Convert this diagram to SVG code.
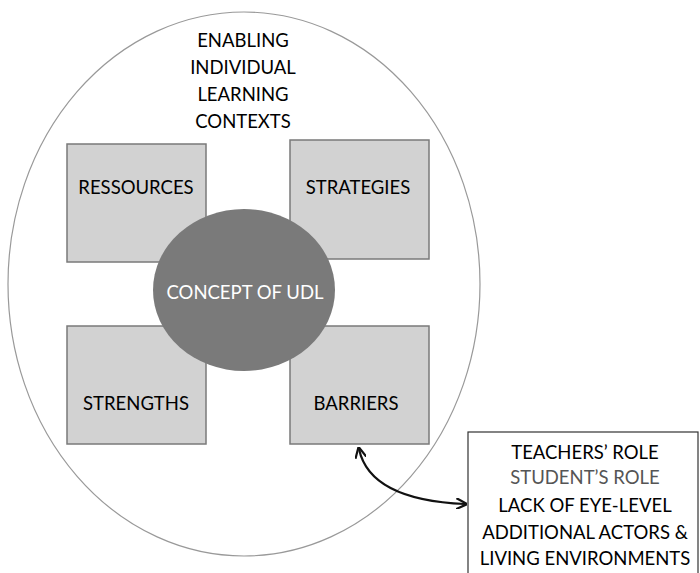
<svg xmlns="http://www.w3.org/2000/svg" width="700" height="573" viewBox="0 0 700 573">
<style>
text{font-family:Lato,"Open Sans","Liberation Sans",sans-serif;font-size:18.5px;fill:#000;text-anchor:middle}
.box{fill:#d2d2d2;stroke:#7a7a7a;stroke-width:1.5}
.conn{fill:none;stroke:#111;stroke-width:2.2}
</style>
<defs>
<marker id="ah" viewBox="0 0 10 10" refX="8" refY="5" markerWidth="5" markerHeight="5" orient="auto-start-reverse">
<path d="M0,0 L10,5 L0,10" fill="none" stroke="#111" stroke-width="2"/>
</marker>
</defs>
<rect width="700" height="573" fill="#fff"/>
<g id="context">
<ellipse cx="244" cy="284" rx="236" ry="272" fill="#fff" stroke="#999" stroke-width="1.2"/>
<text x="243" y="47">ENABLING</text>
<text x="243" y="74">INDIVIDUAL</text>
<text x="243" y="101">LEARNING</text>
<text x="243" y="128">CONTEXTS</text>
</g>
<g id="ressources"><rect class="box" x="67" y="144" width="139" height="118"/><text x="136" y="194">RESSOURCES</text></g>
<g id="strategies"><rect class="box" x="290" y="140" width="139" height="119"/><text x="358" y="194">STRATEGIES</text></g>
<g id="strengths"><rect class="box" x="67" y="326" width="139" height="118"/><text x="136" y="410">STRENGTHS</text></g>
<g id="barriers"><rect class="box" x="290" y="326" width="139" height="118"/><text x="356" y="410">BARRIERS</text></g>
<g id="udl"><ellipse cx="244" cy="290" rx="91" ry="81" fill="#7a7a7a"/><text x="245" y="299" style="fill:#fff">CONCEPT OF UDL</text></g>
<g id="factors">
<rect x="468" y="432" width="230" height="150" fill="#fff" stroke="#333" stroke-width="1.2"/>
<text x="585" y="459">TEACHERS’ ROLE</text>
<text x="585" y="484" style="fill:#555">STUDENT’S ROLE</text>
<text x="585" y="512">LACK OF EYE-LEVEL</text>
<text x="585" y="539">ADDITIONAL ACTORS &amp;</text>
<text x="585" y="565">LIVING ENVIRONMENTS</text>
</g>
<g id="connectors">
<path class="conn" d="M359,449 Q370,500 465,504" marker-start="url(#ah)" marker-end="url(#ah)"/>
</g>
</svg>
